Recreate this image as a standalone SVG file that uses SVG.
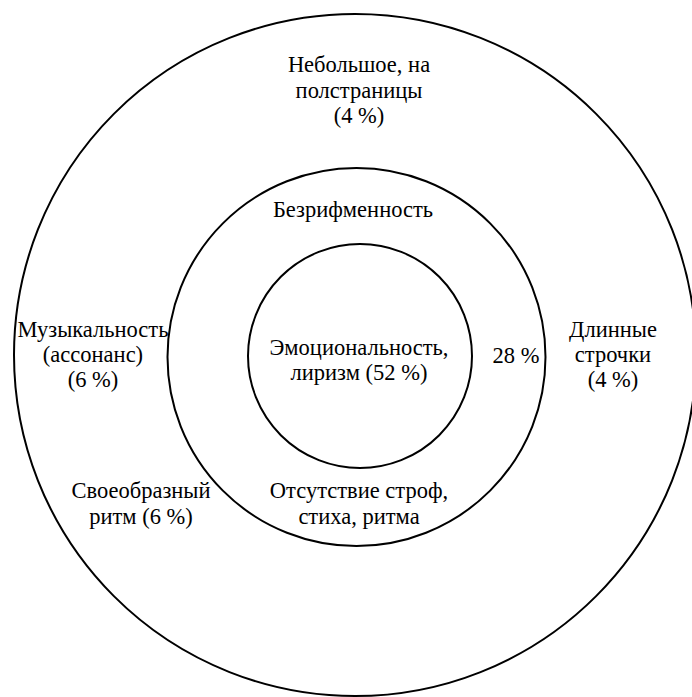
<svg xmlns="http://www.w3.org/2000/svg" width="692" height="697" viewBox="0 0 692 697">
<style>
.ring{fill:none;stroke:#000;stroke-width:2}
.t text{font-size:22.5px;fill:#000;text-anchor:middle}
</style>
<rect width="692" height="697" fill="#fff"/>
<g id="outer"><circle class="ring" cx="355" cy="355" r="341"/></g>
<g id="middle"><circle class="ring" cx="356.5" cy="357" r="189"/></g>
<g id="inner"><circle class="ring" cx="360" cy="356" r="112"/></g>
<g class="t" font-family="'Liberation Serif', 'Times New Roman', serif">
<g id="label-top"><text x="359" y="72">Небольшое, на</text><text x="359" y="98">полстраницы</text><text x="359" y="123">(4 %)</text></g>
<g id="label-bezrif"><text x="353" y="217">Безрифменность</text></g>
<g id="label-center"><text x="359" y="355">Эмоциональность,</text><text x="359" y="380">лиризм (52 %)</text></g>
<g id="label-28"><text x="516" y="363">28 %</text></g>
<g id="label-music"><text x="93" y="337">Музыкальность</text><text x="93" y="362">(ассонанс)</text><text x="93" y="387">(6 %)</text></g>
<g id="label-long"><text x="613" y="337">Длинные</text><text x="613" y="362">строчки</text><text x="613" y="387">(4 %)</text></g>
<g id="label-rhythm"><text x="141" y="498">Своеобразный</text><text x="141" y="524">ритм (6 %)</text></g>
<g id="label-absent"><text x="359" y="498">Отсутствие строф,</text><text x="359" y="524">стиха, ритма</text></g>
</g>
<g id="connectors"></g>
</svg>
